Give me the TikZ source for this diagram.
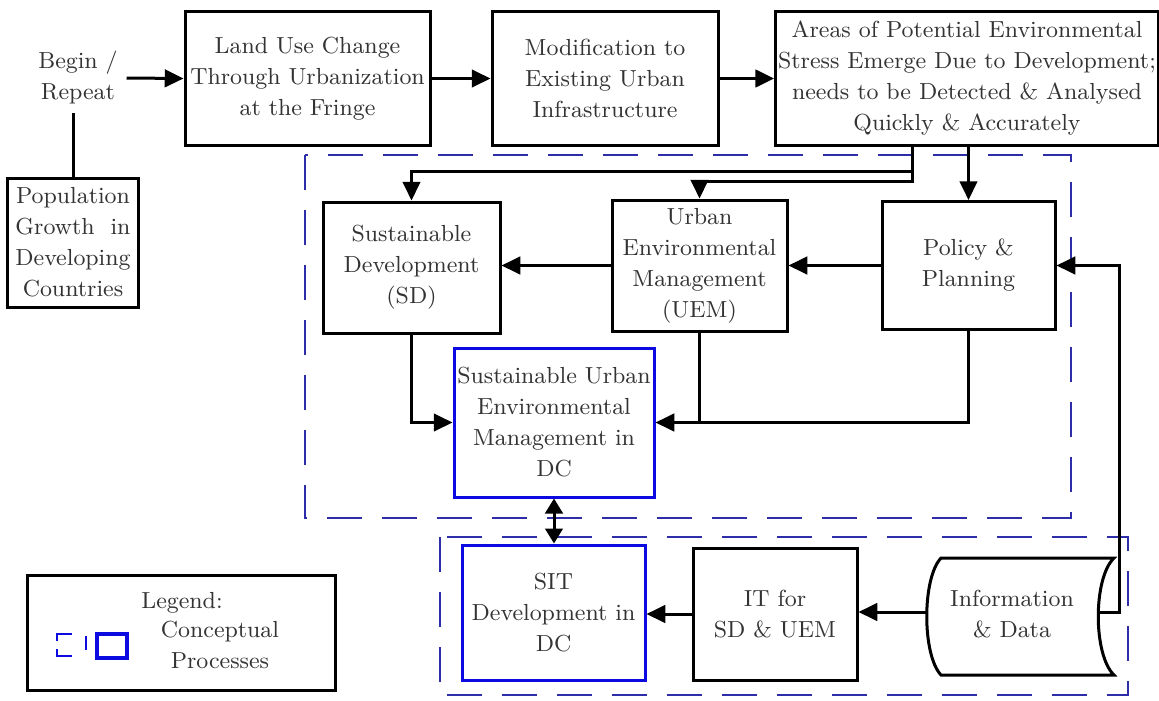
\documentclass[tikz,border=0pt]{standalone}
\usepackage{tikz}
\usetikzlibrary{arrows.meta, positioning}
\definecolor{dashblue}{RGB}{45,45,170}
\definecolor{procblue}{RGB}{10,10,225}

\begin{document}
\begin{tikzpicture}[x=0.4pt, y=-0.4pt,
  every node/.style={font=\fontsize{9.3}{12.4}\selectfont, align=center, text=black!80},
  box/.style={draw=black, line width=1.2pt, inner sep=1pt},
  procbox/.style={box, draw=procblue},
  arr/.style={line width=1.2pt, -{Triangle[length=7.5pt,width=7pt]}},
  dblarr/.style={line width=1.2pt, {Triangle[length=6pt,width=7pt]}-{Triangle[length=6pt,width=7pt]}},
  link/.style={line width=1.2pt},
  region/.style={draw=dashblue, line width=1pt, dash pattern=on 14pt off 8pt}]
  \useasboundingbox (0,0) rectangle (1159,700);

  % dashed regions
  \draw[region] (305,155) rectangle (1071,518);
  \draw[region] (440,537) rectangle (1128,695);

  % top row
  \node (begin) at (78,78) {Begin /\\Repeat};
  \node[box, minimum width=52pt, minimum height=51.6pt] (pop) at (73,242.5) {Population\\Growth~~in\\Developing\\Countries};
  \node[box, minimum width=98pt, minimum height=53.2pt] (land) at (307.5,78.5) {Land Use Change\\Through Urbanization\\at the Fringe};
  \node[box, minimum width=90.4pt, minimum height=53.2pt] (modif) at (605,78.5) {Modification to\\Existing Urban\\Infrastructure};
  \node[box, minimum width=147.2pt, minimum height=53.2pt] (areas) at (967,78.5) {Areas of Potential Environmental\\Stress Emerge Due to Development;\\needs to be Detected \& Analysed\\Quickly \& Accurately};

  % middle row
  \node[box, minimum width=70.8pt, minimum height=52.4pt] (sd) at (411.5,267.5) {Sustainable\\Development\\(SD)};
  \node[box, minimum width=70pt, minimum height=52.4pt] (uem) at (699.5,265.5) {Urban\\Environmental\\Management\\(UEM)};
  \node[box, minimum width=69.2pt, minimum height=51.2pt] (policy) at (968.5,265.5) {Policy \&\\Planning};
  \node[procbox, minimum width=80pt, minimum height=59.6pt] (suem) at (554,422.5) {Sustainable Urban\\Environmental\\Management in\\DC};

  % bottom row
  \node[procbox, minimum width=73.2pt, minimum height=54pt] (sit) at (553.5,612.5) {SIT\\Development in\\DC};
  \node[box, minimum width=65.6pt, minimum height=52.8pt] (itbox) at (775,614) {IT for\\SD \& UEM};
  \draw[link] (941,558) -- (1114,558) .. controls (1093,578) and (1093,655) .. (1114,675)
    -- (941,675) .. controls (922,655) and (922,578) .. (941,558) -- cycle;
  \node (info) at (1012,614) {Information\\\& Data};
  \coordinate (infoL) at (927,612);
  \coordinate (infoR) at (1098,612);

  % legend
  \node[box, minimum width=122.8pt, minimum height=46pt] (legend) at (181.5,632.5) {};
  \node (legtitle) at (182,603) {Legend:};
  \node (legtext) at (220,645) {Conceptual\\Processes};
  \draw[draw=procblue, line width=0.8pt] (72,634) -- (57,634) -- (57,641);
  \draw[draw=procblue, line width=0.8pt] (57,649) -- (57,656) -- (72,656);
  \draw[draw=procblue, line width=0.8pt] (86,636) -- (86,650);
  \draw[draw=procblue, line width=1.6pt] (97,634) rectangle (127,658);

  % connectors along the top
  \draw[arr] (begin.east) -- (land.west);
  \draw[link] (pop.north) -- (pop.north |- begin.south);
  \draw[arr] (land.east) -- (modif.west);
  \draw[arr] (modif.east) -- (areas.west);

  % from areas down into the region
  \coordinate (fork) at ([xshift=-22pt]areas.south);
  \draw[arr] (fork) -- ++(0,25) -| (sd.north);
  \draw[arr] (fork) -- ++(0,35) -| (uem.north);
  \draw[arr] (areas.south -| policy.north) -- (policy.north);

  % middle row links
  \draw[arr] (policy.west) -- (uem.east);
  \draw[arr] (uem.west) -- (uem.west -| sd.east);
  \draw[arr] (sd.south) |- (suem.west);
  \draw[arr] (policy.south) |- (suem.east);
  \draw[link] (uem.south) -- (uem.south |- suem.east);
  \draw[dblarr] (suem.south) -- (suem.south |- sit.north);

  % bottom row links
  \draw[arr] (infoL) -- (infoL -| itbox.east);
  \draw[arr] (itbox.west) -- (itbox.west -| sit.east);
  \draw[arr] (infoR) -- ++(21,0) |- (policy.east);
\end{tikzpicture}
\end{document}
